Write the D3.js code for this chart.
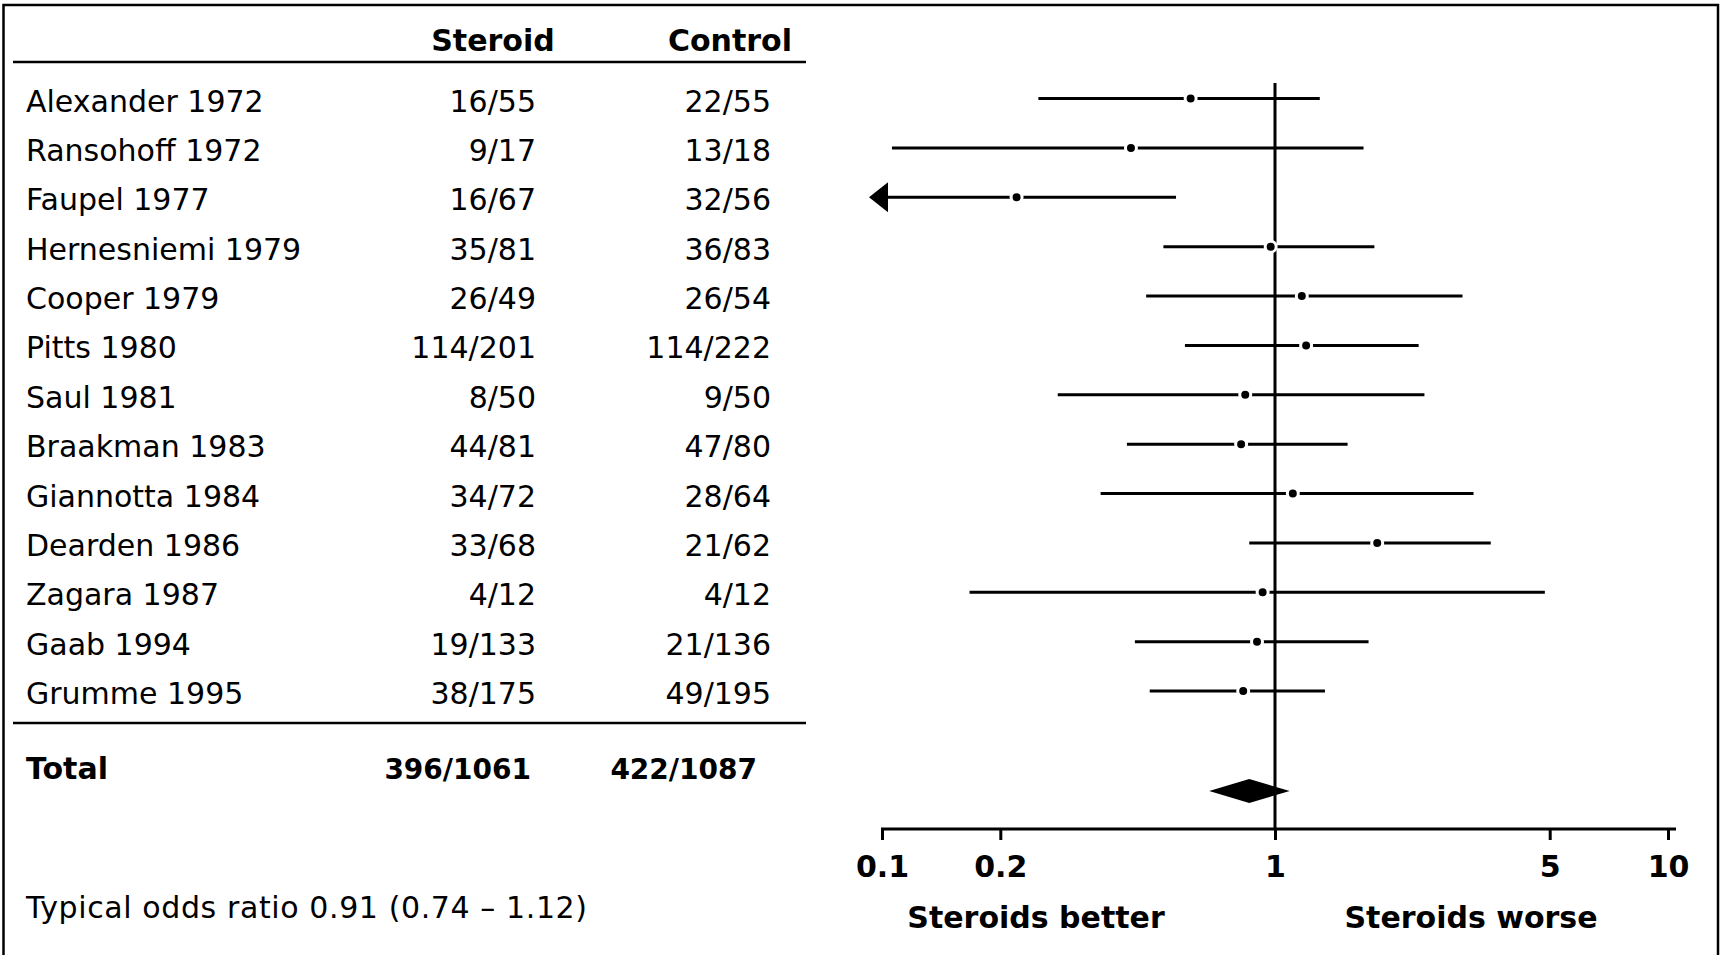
<!DOCTYPE html>
<html>
<head>
<meta charset="utf-8">
<script src="https://cdn.jsdelivr.net/npm/d3@7"></script>
<style>
  body { margin: 0; background: #fff; }
  svg { display: block; font-family: "DejaVu Sans", Verdana, sans-serif; }
</style>
</head>
<body>
<svg id="forest" width="1721" height="955"></svg>
<script>
const width = 1721;
const height = 955;

// Data
const studies = [
  "Alexander 1972", "Ransohoff 1972", "Faupel 1977", "Hernesniemi 1979",
  "Cooper 1979", "Pitts 1980", "Saul 1981", "Braakman 1983",
  "Giannotta 1984", "Dearden 1986", "Zagara 1987", "Gaab 1994", "Grumme 1995"
];
const steroid = ["16/55", "9/17", "16/67", "35/81", "26/49", "114/201", "8/50",
  "44/81", "34/72", "33/68", "4/12", "19/133", "38/175"];
const control = ["22/55", "13/18", "32/56", "36/83", "26/54", "114/222", "9/50",
  "47/80", "28/64", "21/62", "4/12", "21/136", "49/195"];
const oddsRatio = [0.61, 0.43, 0.22, 0.975, 1.17, 1.2, 0.84, 0.82, 1.11, 1.82, 0.93, 0.9, 0.83];
const ciLow = [0.25, 0.106, 0.07, 0.52, 0.47, 0.59, 0.28, 0.42, 0.36, 0.86, 0.167, 0.44, 0.48];
const ciHigh = [1.3, 1.68, 0.56, 1.79, 3.0, 2.32, 2.4, 1.53, 3.2, 3.54, 4.86, 1.73, 1.34];

const totalSteroid = "396/1061";
const totalControl = "422/1087";
const pooled = { low: 0.68, est: 0.86, high: 1.09 };
const summaryText = "Typical odds ratio 0.91 (0.74 \u2013 1.12)";

const tickValues = [0.1, 0.2, 1, 5, 10];
const axisLabels = ["Steroids better", "Steroids worse"];

const svg = d3.select("#forest");

// Frame
svg.append("rect")
  .attr("x", 3.5).attr("y", 5)
  .attr("width", 1714.5).attr("height", 970)
  .attr("fill", "none").attr("stroke", "#000").attr("stroke-width", 2.5);

// Scales
const xScale = d3.scaleLog().domain([0.1, 10]).range([882, 1668]);
const yScale = d3.scalePoint().domain(studies).range([98.5, 691]);
const axisY = 829;
const totalY = 791;

// Table header
svg.append("text").attr("x", 493).attr("y", 51).attr("text-anchor", "middle")
  .attr("font-size", 30).attr("font-weight", "bold").text("Steroid");
svg.append("text").attr("x", 730).attr("y", 51).attr("text-anchor", "middle")
  .attr("font-size", 30).attr("font-weight", "bold").text("Control");

svg.append("line").attr("x1", 13).attr("x2", 806).attr("y1", 62).attr("y2", 62)
  .attr("stroke", "#000").attr("stroke-width", 2.5);
svg.append("line").attr("x1", 13).attr("x2", 806).attr("y1", 723).attr("y2", 723)
  .attr("stroke", "#000").attr("stroke-width", 2.5);

// Table rows
const rows = svg.append("g")
  .selectAll("g")
  .data(studies)
  .enter()
  .append("g")
  .attr("transform", (d) => "translate(0," + (yScale(d) + 13) + ")")
  .attr("font-size", 30);

rows.append("text").attr("x", 26).text((d) => d);
rows.append("text").attr("x", 536).attr("text-anchor", "end").text((d, i) => steroid[i]);
rows.append("text").attr("x", 771).attr("text-anchor", "end").text((d, i) => control[i]);

// Total row
svg.append("text").attr("x", 26).attr("y", totalY - 12)
  .attr("font-size", 30).attr("font-weight", "bold").text("Total");
svg.append("text").attr("x", 531).attr("y", totalY - 12).attr("text-anchor", "end")
  .attr("font-size", 28).attr("font-weight", "bold").text(totalSteroid);
svg.append("text").attr("x", 757).attr("y", totalY - 12).attr("text-anchor", "end")
  .attr("font-size", 28).attr("font-weight", "bold").text(totalControl);

svg.append("text").attr("x", 26).attr("y", 918)
  .attr("font-size", 30)
  .attr("textLength", 561)
  .attr("lengthAdjust", "spacing")
  .text(summaryText);

// Line of no effect
svg.append("line")
  .attr("x1", xScale(1)).attr("x2", xScale(1))
  .attr("y1", 83).attr("y2", axisY)
  .attr("stroke", "#000").attr("stroke-width", 3);

// Confidence intervals
const ci = svg.append("g")
  .selectAll("g")
  .data(studies)
  .enter()
  .append("g");

ci.append("line")
  .attr("x1", (d, i) => ciLow[i] < 0.1 ? xScale(0.1) + 6 : xScale(ciLow[i]))
  .attr("x2", (d, i) => xScale(ciHigh[i]))
  .attr("y1", (d) => yScale(d))
  .attr("y2", (d) => yScale(d))
  .attr("stroke", "#000")
  .attr("stroke-width", 3);

// Arrow for intervals running off the scale
ci.filter((d, i) => ciLow[i] < 0.1)
  .append("path")
  .attr("d", (d) => {
    const x0 = xScale(0.1);
    const y = yScale(d);
    return "M" + (x0 - 13) + "," + y + "L" + (x0 + 6) + "," + (y - 15) +
      "L" + (x0 + 6) + "," + (y + 15) + "Z";
  })
  .attr("fill", "#000");

ci.append("circle")
  .attr("cx", (d, i) => xScale(oddsRatio[i]))
  .attr("cy", (d) => yScale(d))
  .attr("r", 5.5)
  .attr("fill", "#000")
  .attr("stroke", "#fff")
  .attr("stroke-width", 3);

// Pooled diamond
svg.append("path")
  .attr("d",
    "M" + xScale(pooled.low) + "," + totalY +
    "L" + xScale(pooled.est) + "," + (totalY - 12) +
    "L" + xScale(pooled.high) + "," + totalY +
    "L" + xScale(pooled.est) + "," + (totalY + 12) + "Z")
  .attr("fill", "#000");

// Axis
const xAxis = d3.axisBottom(xScale)
  .tickValues(tickValues)
  .tickFormat((d) => d)
  .tickSize(11)
  .tickSizeOuter(0)
  .tickPadding(16);

const axisG = svg.append("g")
  .attr("transform", "translate(0," + axisY + ")")
  .call(xAxis);

axisG.select(".domain")
  .attr("d", "M" + (xScale(0.1) - 1) + ",0H" + (xScale(10) + 8))
  .attr("stroke-width", 3);
axisG.selectAll(".tick line").attr("stroke-width", 3);
axisG.selectAll(".tick text")
  .attr("font-size", 30)
  .attr("font-weight", "bold")
  .attr("font-family", "DejaVu Sans, Verdana, sans-serif")
  .attr("fill", "#000");

svg.append("text").attr("x", 1036).attr("y", 928).attr("text-anchor", "middle")
  .attr("font-size", 30).attr("font-weight", "bold").text(axisLabels[0]);
svg.append("text").attr("x", 1471).attr("y", 928).attr("text-anchor", "middle")
  .attr("font-size", 30).attr("font-weight", "bold").text(axisLabels[1]);
</script>
</body>
</html>
